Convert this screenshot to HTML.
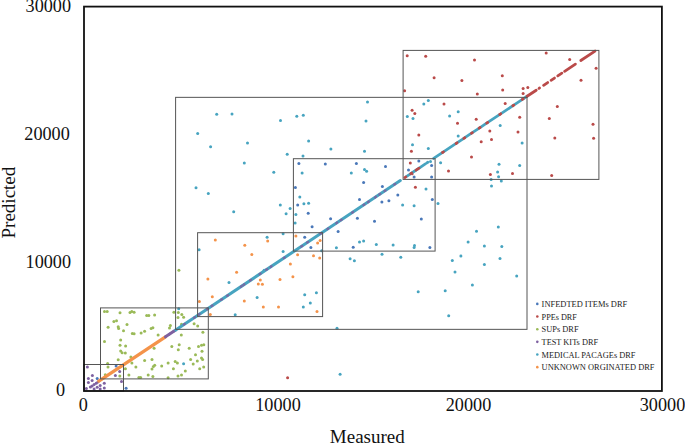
<!DOCTYPE html>
<html><head><meta charset="utf-8"><style>
html,body{margin:0;padding:0;background:#fff;overflow:hidden;}
svg{display:block;}
.t{font-family:"Liberation Serif",serif;font-size:18.2px;fill:#111;}
.ax{font-family:"Liberation Serif",serif;font-size:19px;fill:#111;}
.lg{font-family:"Liberation Serif",serif;font-size:8.5px;fill:#222;}
</style></head><body>
<svg width="685" height="444" viewBox="0 0 685 444">
<circle cx="107.6" cy="363.4" r="1.5" fill="#9ABA58"/>
<circle cx="108.0" cy="367.1" r="1.5" fill="#9ABA58"/>
<circle cx="119.8" cy="375.9" r="1.5" fill="#9ABA58"/>
<circle cx="105.3" cy="374.8" r="1.5" fill="#9ABA58"/>
<circle cx="125.4" cy="368.7" r="1.5" fill="#9ABA58"/>
<circle cx="131.9" cy="362.9" r="1.5" fill="#9ABA58"/>
<circle cx="135.9" cy="366.9" r="1.5" fill="#9ABA58"/>
<circle cx="128.9" cy="375.1" r="1.5" fill="#9ABA58"/>
<circle cx="138.9" cy="377.4" r="1.5" fill="#9ABA58"/>
<circle cx="140.6" cy="377.4" r="1.5" fill="#9ABA58"/>
<circle cx="148.2" cy="375.1" r="1.5" fill="#9ABA58"/>
<circle cx="152.9" cy="376.4" r="1.5" fill="#9ABA58"/>
<circle cx="152.0" cy="369.0" r="1.5" fill="#9ABA58"/>
<circle cx="153.4" cy="366.4" r="1.5" fill="#9ABA58"/>
<circle cx="154.7" cy="365.2" r="1.5" fill="#9ABA58"/>
<circle cx="161.7" cy="365.9" r="1.5" fill="#9ABA58"/>
<circle cx="168.1" cy="362.9" r="1.5" fill="#9ABA58"/>
<circle cx="168.1" cy="377.8" r="1.5" fill="#9ABA58"/>
<circle cx="173.4" cy="368.7" r="1.5" fill="#9ABA58"/>
<circle cx="177.4" cy="362.9" r="1.5" fill="#9ABA58"/>
<circle cx="181.5" cy="375.1" r="1.5" fill="#9ABA58"/>
<circle cx="185.3" cy="371.1" r="1.5" fill="#9ABA58"/>
<circle cx="193.2" cy="364.1" r="1.5" fill="#9ABA58"/>
<circle cx="199.7" cy="368.7" r="1.5" fill="#9ABA58"/>
<circle cx="203.7" cy="366.9" r="1.5" fill="#9ABA58"/>
<circle cx="104.5" cy="311.4" r="1.5" fill="#9ABA58"/>
<circle cx="107.2" cy="311.4" r="1.5" fill="#9ABA58"/>
<circle cx="120.0" cy="312.8" r="1.5" fill="#9ABA58"/>
<circle cx="130.0" cy="312.6" r="1.5" fill="#9ABA58"/>
<circle cx="131.8" cy="311.6" r="1.5" fill="#9ABA58"/>
<circle cx="134.1" cy="312.3" r="1.5" fill="#9ABA58"/>
<circle cx="146.7" cy="315.5" r="1.5" fill="#9ABA58"/>
<circle cx="148.8" cy="315.5" r="1.5" fill="#9ABA58"/>
<circle cx="154.6" cy="314.9" r="1.5" fill="#9ABA58"/>
<circle cx="173.9" cy="312.3" r="1.5" fill="#9ABA58"/>
<circle cx="178.3" cy="312.6" r="1.5" fill="#9ABA58"/>
<circle cx="181.8" cy="314.4" r="1.5" fill="#9ABA58"/>
<circle cx="178.0" cy="317.6" r="1.5" fill="#9ABA58"/>
<circle cx="183.6" cy="317.2" r="1.5" fill="#9ABA58"/>
<circle cx="113.9" cy="321.4" r="1.5" fill="#9ABA58"/>
<circle cx="116.5" cy="320.7" r="1.5" fill="#9ABA58"/>
<circle cx="108.1" cy="327.2" r="1.5" fill="#9ABA58"/>
<circle cx="118.2" cy="326.7" r="1.5" fill="#9ABA58"/>
<circle cx="118.6" cy="328.5" r="1.5" fill="#9ABA58"/>
<circle cx="127.0" cy="324.6" r="1.5" fill="#9ABA58"/>
<circle cx="123.5" cy="330.7" r="1.5" fill="#9ABA58"/>
<circle cx="132.3" cy="333.4" r="1.5" fill="#9ABA58"/>
<circle cx="134.1" cy="333.7" r="1.5" fill="#9ABA58"/>
<circle cx="141.1" cy="333.0" r="1.5" fill="#9ABA58"/>
<circle cx="144.6" cy="331.3" r="1.5" fill="#9ABA58"/>
<circle cx="151.1" cy="328.5" r="1.5" fill="#9ABA58"/>
<circle cx="152.9" cy="327.8" r="1.5" fill="#9ABA58"/>
<circle cx="158.1" cy="335.1" r="1.5" fill="#9ABA58"/>
<circle cx="170.4" cy="325.5" r="1.5" fill="#9ABA58"/>
<circle cx="169.5" cy="328.1" r="1.5" fill="#9ABA58"/>
<circle cx="181.5" cy="324.2" r="1.5" fill="#9ABA58"/>
<circle cx="194.1" cy="323.7" r="1.5" fill="#9ABA58"/>
<circle cx="197.7" cy="326.0" r="1.5" fill="#9ABA58"/>
<circle cx="202.9" cy="332.2" r="1.5" fill="#9ABA58"/>
<circle cx="181.3" cy="335.1" r="1.5" fill="#9ABA58"/>
<circle cx="104.5" cy="341.6" r="1.5" fill="#9ABA58"/>
<circle cx="120.7" cy="340.1" r="1.5" fill="#9ABA58"/>
<circle cx="120.0" cy="345.3" r="1.5" fill="#9ABA58"/>
<circle cx="125.6" cy="346.0" r="1.5" fill="#9ABA58"/>
<circle cx="120.7" cy="350.9" r="1.5" fill="#9ABA58"/>
<circle cx="122.1" cy="352.7" r="1.5" fill="#9ABA58"/>
<circle cx="125.3" cy="353.1" r="1.5" fill="#9ABA58"/>
<circle cx="154.1" cy="348.3" r="1.5" fill="#9ABA58"/>
<circle cx="171.8" cy="346.6" r="1.5" fill="#9ABA58"/>
<circle cx="179.2" cy="344.8" r="1.5" fill="#9ABA58"/>
<circle cx="178.3" cy="349.7" r="1.5" fill="#9ABA58"/>
<circle cx="189.2" cy="348.3" r="1.5" fill="#9ABA58"/>
<circle cx="198.5" cy="346.6" r="1.5" fill="#9ABA58"/>
<circle cx="201.5" cy="345.3" r="1.5" fill="#9ABA58"/>
<circle cx="203.8" cy="344.8" r="1.5" fill="#9ABA58"/>
<circle cx="202.0" cy="351.3" r="1.5" fill="#9ABA58"/>
<circle cx="130.9" cy="357.1" r="1.5" fill="#9ABA58"/>
<circle cx="118.2" cy="359.7" r="1.5" fill="#9ABA58"/>
<circle cx="144.6" cy="360.6" r="1.5" fill="#9ABA58"/>
<circle cx="152.0" cy="359.4" r="1.5" fill="#9ABA58"/>
<circle cx="175.2" cy="361.5" r="1.5" fill="#9ABA58"/>
<circle cx="190.6" cy="359.4" r="1.5" fill="#9ABA58"/>
<circle cx="195.5" cy="354.8" r="1.5" fill="#9ABA58"/>
<circle cx="197.3" cy="361.1" r="1.5" fill="#9ABA58"/>
<circle cx="201.5" cy="358.0" r="1.5" fill="#9ABA58"/>
<circle cx="202.6" cy="359.4" r="1.5" fill="#9ABA58"/>
<circle cx="178.0" cy="375.9" r="1.5" fill="#9ABA58"/>
<circle cx="178.9" cy="270.2" r="1.5" fill="#9ABA58"/>
<circle cx="199.4" cy="301.4" r="1.5" fill="#F4934A"/>
<circle cx="210.3" cy="314.4" r="1.5" fill="#F4934A"/>
<circle cx="317.6" cy="243.1" r="1.5" fill="#F4934A"/>
<circle cx="320.1" cy="240.4" r="1.5" fill="#F4934A"/>
<circle cx="297.6" cy="254.7" r="1.5" fill="#F4934A"/>
<circle cx="313.5" cy="255.7" r="1.5" fill="#F4934A"/>
<circle cx="319.7" cy="258.0" r="1.5" fill="#F4934A"/>
<circle cx="290.4" cy="263.9" r="1.5" fill="#F4934A"/>
<circle cx="292.9" cy="276.8" r="1.5" fill="#F4934A"/>
<circle cx="317.0" cy="311.5" r="1.5" fill="#F4934A"/>
<circle cx="244.8" cy="245.3" r="1.5" fill="#F4934A"/>
<circle cx="267.7" cy="240.9" r="1.5" fill="#F4934A"/>
<circle cx="215.3" cy="240.0" r="1.5" fill="#F4934A"/>
<circle cx="251.8" cy="254.6" r="1.5" fill="#F4934A"/>
<circle cx="236.6" cy="272.2" r="1.5" fill="#F4934A"/>
<circle cx="207.9" cy="279.0" r="1.5" fill="#F4934A"/>
<circle cx="212.3" cy="296.7" r="1.5" fill="#F4934A"/>
<circle cx="260.3" cy="280.1" r="1.5" fill="#F4934A"/>
<circle cx="258.3" cy="283.9" r="1.5" fill="#F4934A"/>
<circle cx="262.4" cy="284.3" r="1.5" fill="#F4934A"/>
<circle cx="280.0" cy="279.5" r="1.5" fill="#F4934A"/>
<circle cx="244.3" cy="301.1" r="1.5" fill="#F4934A"/>
<circle cx="263.3" cy="307.1" r="1.5" fill="#F4934A"/>
<circle cx="278.5" cy="307.1" r="1.5" fill="#F4934A"/>
<circle cx="295.9" cy="236.1" r="1.5" fill="#F4934A"/>
<circle cx="183.6" cy="363.8" r="1.5" fill="#47A4C0"/>
<circle cx="178.7" cy="308.8" r="1.5" fill="#47A4C0"/>
<circle cx="438.0" cy="203.6" r="1.5" fill="#47A4C0"/>
<circle cx="414.1" cy="205.7" r="1.5" fill="#47A4C0"/>
<circle cx="393.1" cy="245.1" r="1.5" fill="#47A4C0"/>
<circle cx="414.5" cy="245.5" r="1.5" fill="#47A4C0"/>
<circle cx="414.1" cy="247.6" r="1.5" fill="#47A4C0"/>
<circle cx="400.8" cy="257.2" r="1.5" fill="#47A4C0"/>
<circle cx="476.5" cy="231.2" r="1.5" fill="#47A4C0"/>
<circle cx="498.3" cy="227.1" r="1.5" fill="#47A4C0"/>
<circle cx="468.1" cy="242.0" r="1.5" fill="#47A4C0"/>
<circle cx="484.4" cy="245.9" r="1.5" fill="#47A4C0"/>
<circle cx="501.8" cy="246.5" r="1.5" fill="#47A4C0"/>
<circle cx="460.9" cy="256.1" r="1.5" fill="#47A4C0"/>
<circle cx="452.3" cy="260.4" r="1.5" fill="#47A4C0"/>
<circle cx="500.0" cy="258.4" r="1.5" fill="#47A4C0"/>
<circle cx="484.4" cy="264.5" r="1.5" fill="#47A4C0"/>
<circle cx="455.0" cy="272.0" r="1.5" fill="#47A4C0"/>
<circle cx="516.7" cy="276.1" r="1.5" fill="#47A4C0"/>
<circle cx="472.4" cy="285.0" r="1.5" fill="#47A4C0"/>
<circle cx="418.2" cy="291.8" r="1.5" fill="#47A4C0"/>
<circle cx="445.2" cy="290.8" r="1.5" fill="#47A4C0"/>
<circle cx="448.7" cy="315.7" r="1.5" fill="#47A4C0"/>
<circle cx="321.7" cy="250.8" r="1.5" fill="#47A4C0"/>
<circle cx="336.4" cy="247.8" r="1.5" fill="#47A4C0"/>
<circle cx="359.5" cy="242.0" r="1.5" fill="#47A4C0"/>
<circle cx="363.6" cy="241.0" r="1.5" fill="#47A4C0"/>
<circle cx="376.3" cy="244.5" r="1.5" fill="#47A4C0"/>
<circle cx="350.1" cy="258.8" r="1.5" fill="#47A4C0"/>
<circle cx="354.4" cy="260.8" r="1.5" fill="#47A4C0"/>
<circle cx="382.0" cy="254.3" r="1.5" fill="#47A4C0"/>
<circle cx="304.7" cy="294.8" r="1.5" fill="#47A4C0"/>
<circle cx="316.4" cy="292.7" r="1.5" fill="#47A4C0"/>
<circle cx="310.3" cy="302.9" r="1.5" fill="#47A4C0"/>
<circle cx="303.3" cy="307.0" r="1.5" fill="#47A4C0"/>
<circle cx="337.0" cy="328.3" r="1.5" fill="#47A4C0"/>
<circle cx="340.1" cy="374.3" r="1.5" fill="#47A4C0"/>
<circle cx="199.1" cy="249.7" r="1.5" fill="#47A4C0"/>
<circle cx="229.0" cy="282.5" r="1.5" fill="#47A4C0"/>
<circle cx="257.1" cy="297.6" r="1.5" fill="#47A4C0"/>
<circle cx="264.1" cy="270.2" r="1.5" fill="#47A4C0"/>
<circle cx="283.1" cy="251.4" r="1.5" fill="#47A4C0"/>
<circle cx="235.2" cy="314.7" r="1.5" fill="#47A4C0"/>
<circle cx="244.3" cy="162.9" r="1.5" fill="#47A4C0"/>
<circle cx="273.8" cy="172.2" r="1.5" fill="#47A4C0"/>
<circle cx="196.0" cy="187.8" r="1.5" fill="#47A4C0"/>
<circle cx="208.3" cy="193.6" r="1.5" fill="#47A4C0"/>
<circle cx="280.3" cy="205.0" r="1.5" fill="#47A4C0"/>
<circle cx="233.7" cy="211.7" r="1.5" fill="#47A4C0"/>
<circle cx="267.1" cy="237.2" r="1.5" fill="#47A4C0"/>
<circle cx="283.1" cy="233.7" r="1.5" fill="#47A4C0"/>
<circle cx="216.7" cy="114.2" r="1.5" fill="#47A4C0"/>
<circle cx="232.0" cy="113.9" r="1.5" fill="#47A4C0"/>
<circle cx="280.5" cy="120.4" r="1.5" fill="#47A4C0"/>
<circle cx="197.7" cy="133.5" r="1.5" fill="#47A4C0"/>
<circle cx="247.5" cy="142.9" r="1.5" fill="#47A4C0"/>
<circle cx="210.6" cy="146.7" r="1.5" fill="#47A4C0"/>
<circle cx="367.5" cy="102.1" r="1.5" fill="#47A4C0"/>
<circle cx="296.8" cy="116.2" r="1.5" fill="#47A4C0"/>
<circle cx="303.3" cy="115.3" r="1.5" fill="#47A4C0"/>
<circle cx="366.0" cy="120.9" r="1.5" fill="#47A4C0"/>
<circle cx="308.6" cy="141.1" r="1.5" fill="#47A4C0"/>
<circle cx="330.9" cy="149.0" r="1.5" fill="#47A4C0"/>
<circle cx="364.5" cy="151.3" r="1.5" fill="#47A4C0"/>
<circle cx="287.2" cy="154.3" r="1.5" fill="#47A4C0"/>
<circle cx="303.0" cy="156.0" r="1.5" fill="#47A4C0"/>
<circle cx="302.1" cy="173.1" r="1.5" fill="#47A4C0"/>
<circle cx="351.3" cy="173.1" r="1.5" fill="#47A4C0"/>
<circle cx="364.5" cy="169.4" r="1.5" fill="#47A4C0"/>
<circle cx="366.6" cy="171.3" r="1.5" fill="#47A4C0"/>
<circle cx="299.8" cy="197.1" r="1.5" fill="#47A4C0"/>
<circle cx="303.9" cy="203.8" r="1.5" fill="#47A4C0"/>
<circle cx="308.6" cy="203.3" r="1.5" fill="#47A4C0"/>
<circle cx="290.1" cy="208.6" r="1.5" fill="#47A4C0"/>
<circle cx="286.1" cy="213.8" r="1.5" fill="#47A4C0"/>
<circle cx="295.9" cy="214.4" r="1.5" fill="#47A4C0"/>
<circle cx="295.1" cy="223.1" r="1.5" fill="#47A4C0"/>
<circle cx="402.6" cy="205.0" r="1.5" fill="#47A4C0"/>
<circle cx="430.5" cy="161.6" r="1.5" fill="#47A4C0"/>
<circle cx="423.8" cy="104.0" r="1.5" fill="#47A4C0"/>
<circle cx="428.3" cy="100.6" r="1.5" fill="#47A4C0"/>
<circle cx="407.3" cy="116.6" r="1.5" fill="#47A4C0"/>
<circle cx="413.0" cy="118.6" r="1.5" fill="#47A4C0"/>
<circle cx="449.6" cy="115.9" r="1.5" fill="#47A4C0"/>
<circle cx="458.2" cy="111.8" r="1.5" fill="#47A4C0"/>
<circle cx="458.2" cy="136.1" r="1.5" fill="#47A4C0"/>
<circle cx="412.5" cy="144.7" r="1.5" fill="#47A4C0"/>
<circle cx="428.3" cy="148.5" r="1.5" fill="#47A4C0"/>
<circle cx="440.6" cy="162.7" r="1.5" fill="#47A4C0"/>
<circle cx="426.0" cy="189.0" r="1.5" fill="#47A4C0"/>
<circle cx="500.2" cy="125.4" r="1.5" fill="#47A4C0"/>
<circle cx="522.1" cy="143.1" r="1.5" fill="#47A4C0"/>
<circle cx="499.0" cy="164.2" r="1.5" fill="#47A4C0"/>
<circle cx="519.7" cy="165.6" r="1.5" fill="#47A4C0"/>
<circle cx="497.6" cy="171.9" r="1.5" fill="#47A4C0"/>
<circle cx="498.6" cy="176.8" r="1.5" fill="#47A4C0"/>
<circle cx="491.1" cy="179.5" r="1.5" fill="#47A4C0"/>
<circle cx="501.3" cy="180.9" r="1.5" fill="#47A4C0"/>
<circle cx="491.5" cy="186.0" r="1.5" fill="#47A4C0"/>
<circle cx="97.2" cy="378.6" r="1.5" fill="#4A78B9"/>
<circle cx="116.1" cy="365.9" r="1.5" fill="#4A78B9"/>
<circle cx="126.1" cy="388.3" r="1.5" fill="#4A78B9"/>
<circle cx="432.3" cy="199.5" r="1.5" fill="#4A78B9"/>
<circle cx="421.3" cy="218.9" r="1.5" fill="#4A78B9"/>
<circle cx="429.9" cy="247.6" r="1.5" fill="#4A78B9"/>
<circle cx="310.9" cy="247.6" r="1.5" fill="#4A78B9"/>
<circle cx="353.2" cy="247.2" r="1.5" fill="#4A78B9"/>
<circle cx="298.9" cy="163.4" r="1.5" fill="#4A78B9"/>
<circle cx="325.3" cy="164.1" r="1.5" fill="#4A78B9"/>
<circle cx="356.4" cy="163.4" r="1.5" fill="#4A78B9"/>
<circle cx="385.5" cy="166.4" r="1.5" fill="#4A78B9"/>
<circle cx="295.4" cy="187.5" r="1.5" fill="#4A78B9"/>
<circle cx="363.6" cy="182.6" r="1.5" fill="#4A78B9"/>
<circle cx="382.4" cy="186.6" r="1.5" fill="#4A78B9"/>
<circle cx="397.8" cy="194.9" r="1.5" fill="#4A78B9"/>
<circle cx="359.5" cy="199.4" r="1.5" fill="#4A78B9"/>
<circle cx="381.9" cy="202.1" r="1.5" fill="#4A78B9"/>
<circle cx="388.9" cy="200.7" r="1.5" fill="#4A78B9"/>
<circle cx="297.7" cy="205.0" r="1.5" fill="#4A78B9"/>
<circle cx="308.2" cy="213.3" r="1.5" fill="#4A78B9"/>
<circle cx="330.6" cy="218.7" r="1.5" fill="#4A78B9"/>
<circle cx="357.4" cy="218.2" r="1.5" fill="#4A78B9"/>
<circle cx="374.5" cy="221.2" r="1.5" fill="#4A78B9"/>
<circle cx="312.1" cy="226.7" r="1.5" fill="#4A78B9"/>
<circle cx="338.1" cy="231.4" r="1.5" fill="#4A78B9"/>
<circle cx="304.7" cy="237.2" r="1.5" fill="#4A78B9"/>
<circle cx="418.8" cy="160.9" r="1.5" fill="#4A78B9"/>
<circle cx="408.5" cy="169.9" r="1.5" fill="#4A78B9"/>
<circle cx="431.6" cy="165.4" r="1.5" fill="#4A78B9"/>
<circle cx="414.1" cy="177.1" r="1.5" fill="#4A78B9"/>
<circle cx="431.6" cy="177.1" r="1.5" fill="#4A78B9"/>
<circle cx="407.2" cy="55.8" r="1.5" fill="#BA4A49"/>
<circle cx="425.7" cy="56.2" r="1.5" fill="#BA4A49"/>
<circle cx="434.1" cy="77.7" r="1.5" fill="#BA4A49"/>
<circle cx="461.9" cy="80.4" r="1.5" fill="#BA4A49"/>
<circle cx="287.6" cy="377.8" r="1.5" fill="#BA4A49"/>
<circle cx="410.3" cy="163.1" r="1.5" fill="#BA4A49"/>
<circle cx="412.1" cy="173.7" r="1.5" fill="#BA4A49"/>
<circle cx="404.6" cy="90.7" r="1.5" fill="#BA4A49"/>
<circle cx="477.3" cy="94.1" r="1.5" fill="#BA4A49"/>
<circle cx="444.0" cy="104.0" r="1.5" fill="#BA4A49"/>
<circle cx="412.1" cy="110.3" r="1.5" fill="#BA4A49"/>
<circle cx="414.8" cy="113.6" r="1.5" fill="#BA4A49"/>
<circle cx="476.2" cy="119.3" r="1.5" fill="#BA4A49"/>
<circle cx="457.5" cy="123.3" r="1.5" fill="#BA4A49"/>
<circle cx="418.8" cy="135.0" r="1.5" fill="#BA4A49"/>
<circle cx="411.4" cy="151.2" r="1.5" fill="#BA4A49"/>
<circle cx="471.5" cy="157.1" r="1.5" fill="#BA4A49"/>
<circle cx="448.5" cy="171.0" r="1.5" fill="#BA4A49"/>
<circle cx="415.4" cy="187.2" r="1.5" fill="#BA4A49"/>
<circle cx="474.5" cy="60.0" r="1.5" fill="#BA4A49"/>
<circle cx="546.2" cy="52.9" r="1.5" fill="#BA4A49"/>
<circle cx="569.7" cy="59.4" r="1.5" fill="#BA4A49"/>
<circle cx="502.3" cy="75.8" r="1.5" fill="#BA4A49"/>
<circle cx="596.1" cy="68.2" r="1.5" fill="#BA4A49"/>
<circle cx="581.0" cy="80.3" r="1.5" fill="#BA4A49"/>
<circle cx="502.7" cy="90.1" r="1.5" fill="#BA4A49"/>
<circle cx="523.1" cy="88.4" r="1.5" fill="#BA4A49"/>
<circle cx="527.8" cy="87.6" r="1.5" fill="#BA4A49"/>
<circle cx="523.1" cy="93.5" r="1.5" fill="#BA4A49"/>
<circle cx="505.2" cy="103.4" r="1.5" fill="#BA4A49"/>
<circle cx="557.3" cy="106.4" r="1.5" fill="#BA4A49"/>
<circle cx="519.7" cy="117.3" r="1.5" fill="#BA4A49"/>
<circle cx="549.3" cy="118.5" r="1.5" fill="#BA4A49"/>
<circle cx="593.0" cy="124.2" r="1.5" fill="#BA4A49"/>
<circle cx="489.8" cy="131.1" r="1.5" fill="#BA4A49"/>
<circle cx="518.0" cy="132.1" r="1.5" fill="#BA4A49"/>
<circle cx="481.2" cy="141.7" r="1.5" fill="#BA4A49"/>
<circle cx="491.5" cy="139.6" r="1.5" fill="#BA4A49"/>
<circle cx="554.8" cy="138.0" r="1.5" fill="#BA4A49"/>
<circle cx="593.6" cy="138.2" r="1.5" fill="#BA4A49"/>
<circle cx="490.4" cy="174.4" r="1.5" fill="#BA4A49"/>
<circle cx="512.5" cy="173.4" r="1.5" fill="#BA4A49"/>
<circle cx="551.7" cy="175.4" r="1.5" fill="#BA4A49"/>
<circle cx="87.4" cy="366.9" r="1.5" fill="#7E61A1"/>
<circle cx="92.4" cy="375.5" r="1.5" fill="#7E61A1"/>
<circle cx="88.4" cy="378.6" r="1.5" fill="#7E61A1"/>
<circle cx="92.1" cy="380.4" r="1.5" fill="#7E61A1"/>
<circle cx="88.4" cy="382.6" r="1.5" fill="#7E61A1"/>
<circle cx="86.4" cy="388.5" r="1.5" fill="#7E61A1"/>
<circle cx="90.4" cy="387.0" r="1.5" fill="#7E61A1"/>
<circle cx="92.1" cy="386.0" r="1.5" fill="#7E61A1"/>
<circle cx="94.1" cy="384.6" r="1.5" fill="#7E61A1"/>
<circle cx="96.2" cy="383.3" r="1.5" fill="#7E61A1"/>
<circle cx="97.9" cy="381.9" r="1.5" fill="#7E61A1"/>
<circle cx="94.1" cy="389.0" r="1.5" fill="#7E61A1"/>
<circle cx="97.2" cy="387.3" r="1.5" fill="#7E61A1"/>
<circle cx="100.2" cy="385.6" r="1.5" fill="#7E61A1"/>
<circle cx="100.2" cy="389.0" r="1.5" fill="#7E61A1"/>
<circle cx="104.3" cy="383.3" r="1.5" fill="#7E61A1"/>
<circle cx="104.3" cy="388.0" r="1.5" fill="#7E61A1"/>
<circle cx="115.4" cy="375.5" r="1.5" fill="#7E61A1"/>
<circle cx="119.7" cy="371.6" r="1.5" fill="#7E61A1"/>
<circle cx="121.5" cy="381.6" r="1.5" fill="#7E61A1"/>
<line x1="98.83" y1="381.13" x2="165.48" y2="336.8" stroke="#F4934A" stroke-width="3.3" stroke-linecap="round"/>
<line x1="165.48" y1="336.8" x2="175.31" y2="330.26" stroke="#7E61A1" stroke-width="3.0" stroke-linecap="round"/>
<line x1="175.31" y1="330.26" x2="400.3" y2="180.61" stroke="#47A4C0" stroke-width="3.0" stroke-linecap="round"/>
<line x1="406.66" y1="176.38" x2="410.51" y2="173.81" stroke="#47A4C0" stroke-width="2.8" stroke-linecap="round"/>
<line x1="411.86" y1="172.92" x2="415.91" y2="170.23" stroke="#47A4C0" stroke-width="2.8" stroke-linecap="round"/>
<line x1="417.26" y1="169.33" x2="417.83" y2="168.94" stroke="#47A4C0" stroke-width="2.8" stroke-linecap="round"/>
<line x1="419.18" y1="168.05" x2="425.35" y2="163.95" stroke="#47A4C0" stroke-width="2.8" stroke-linecap="round"/>
<line x1="426.89" y1="162.92" x2="427.85" y2="162.28" stroke="#47A4C0" stroke-width="2.8" stroke-linecap="round"/>
<line x1="433.63" y1="158.44" x2="442.3" y2="152.67" stroke="#47A4C0" stroke-width="2.8" stroke-linecap="round"/>
<line x1="443.84" y1="151.65" x2="455.78" y2="143.7" stroke="#47A4C0" stroke-width="2.8" stroke-linecap="round"/>
<line x1="457.32" y1="142.68" x2="463.49" y2="138.58" stroke="#47A4C0" stroke-width="2.8" stroke-linecap="round"/>
<line x1="465.22" y1="137.42" x2="471.19" y2="133.45" stroke="#47A4C0" stroke-width="2.8" stroke-linecap="round"/>
<line x1="472.73" y1="132.43" x2="478.9" y2="128.33" stroke="#47A4C0" stroke-width="2.8" stroke-linecap="round"/>
<line x1="480.44" y1="127.3" x2="486.6" y2="123.2" stroke="#47A4C0" stroke-width="2.8" stroke-linecap="round"/>
<line x1="488.14" y1="122.18" x2="499.51" y2="114.62" stroke="#47A4C0" stroke-width="2.8" stroke-linecap="round"/>
<line x1="501.05" y1="113.59" x2="512.61" y2="105.9" stroke="#47A4C0" stroke-width="2.8" stroke-linecap="round"/>
<line x1="514.15" y1="104.88" x2="522.05" y2="99.62" stroke="#47A4C0" stroke-width="2.8" stroke-linecap="round"/>
<line x1="523.2" y1="98.86" x2="527.06" y2="96.29" stroke="#47A4C0" stroke-width="2.8" stroke-linecap="round"/>
<line x1="404.83" y1="177.59" x2="405.79" y2="176.95" stroke="#BA4A49" stroke-width="2.8" stroke-linecap="round"/>
<line x1="410.71" y1="173.69" x2="411.67" y2="173.05" stroke="#BA4A49" stroke-width="2.8" stroke-linecap="round"/>
<line x1="416.1" y1="170.1" x2="417.06" y2="169.46" stroke="#BA4A49" stroke-width="2.8" stroke-linecap="round"/>
<line x1="418.03" y1="168.82" x2="418.99" y2="168.18" stroke="#BA4A49" stroke-width="2.8" stroke-linecap="round"/>
<line x1="442.51" y1="152.53" x2="443.47" y2="151.89" stroke="#BA4A49" stroke-width="2.8" stroke-linecap="round"/>
<line x1="456.11" y1="143.48" x2="457.07" y2="142.84" stroke="#BA4A49" stroke-width="2.8" stroke-linecap="round"/>
<line x1="463.82" y1="138.36" x2="464.78" y2="137.72" stroke="#BA4A49" stroke-width="2.8" stroke-linecap="round"/>
<line x1="471.42" y1="133.3" x2="472.39" y2="132.66" stroke="#BA4A49" stroke-width="2.8" stroke-linecap="round"/>
<line x1="479.13" y1="128.17" x2="480.09" y2="127.53" stroke="#BA4A49" stroke-width="2.8" stroke-linecap="round"/>
<line x1="486.72" y1="123.12" x2="487.68" y2="122.48" stroke="#BA4A49" stroke-width="2.8" stroke-linecap="round"/>
<line x1="499.72" y1="114.48" x2="500.69" y2="113.83" stroke="#BA4A49" stroke-width="2.8" stroke-linecap="round"/>
<line x1="512.82" y1="105.76" x2="513.78" y2="105.12" stroke="#BA4A49" stroke-width="2.8" stroke-linecap="round"/>
<line x1="522.3" y1="99.46" x2="523.26" y2="98.82" stroke="#BA4A49" stroke-width="2.8" stroke-linecap="round"/>
<line x1="169.07" y1="334.42" x2="169.91" y2="333.85" stroke="#7E61A1" stroke-width="2.4" stroke-linecap="round" stroke-opacity="0.85"/>
<line x1="173.07" y1="331.75" x2="173.92" y2="331.19" stroke="#7E61A1" stroke-width="2.4" stroke-linecap="round" stroke-opacity="0.85"/>
<line x1="183.88" y1="324.56" x2="184.73" y2="324.0" stroke="#7E61A1" stroke-width="2.4" stroke-linecap="round" stroke-opacity="0.85"/>
<line x1="194.09" y1="317.77" x2="194.94" y2="317.21" stroke="#7E61A1" stroke-width="2.4" stroke-linecap="round" stroke-opacity="0.85"/>
<line x1="198.79" y1="314.65" x2="199.64" y2="314.08" stroke="#7E61A1" stroke-width="2.4" stroke-linecap="round" stroke-opacity="0.85"/>
<line x1="206.9" y1="309.25" x2="207.75" y2="308.69" stroke="#7E61A1" stroke-width="2.4" stroke-linecap="round" stroke-opacity="0.85"/>
<line x1="211.6" y1="306.12" x2="212.45" y2="305.56" stroke="#7E61A1" stroke-width="2.4" stroke-linecap="round" stroke-opacity="0.85"/>
<line x1="221.12" y1="299.79" x2="221.96" y2="299.23" stroke="#7E61A1" stroke-width="2.4" stroke-linecap="round" stroke-opacity="0.85"/>
<line x1="227.2" y1="295.75" x2="228.05" y2="295.18" stroke="#7E61A1" stroke-width="2.4" stroke-linecap="round" stroke-opacity="0.85"/>
<line x1="240.88" y1="286.65" x2="241.73" y2="286.08" stroke="#7E61A1" stroke-width="2.4" stroke-linecap="round" stroke-opacity="0.85"/>
<line x1="243.5" y1="284.91" x2="244.35" y2="284.34" stroke="#7E61A1" stroke-width="2.4" stroke-linecap="round" stroke-opacity="0.85"/>
<line x1="250.11" y1="280.51" x2="250.96" y2="279.95" stroke="#7E61A1" stroke-width="2.4" stroke-linecap="round" stroke-opacity="0.85"/>
<line x1="259.6" y1="274.19" x2="260.45" y2="273.63" stroke="#7E61A1" stroke-width="2.4" stroke-linecap="round" stroke-opacity="0.85"/>
<line x1="266.21" y1="269.8" x2="267.06" y2="269.23" stroke="#7E61A1" stroke-width="2.4" stroke-linecap="round" stroke-opacity="0.85"/>
<line x1="270.6" y1="266.88" x2="271.45" y2="266.31" stroke="#7E61A1" stroke-width="2.4" stroke-linecap="round" stroke-opacity="0.85"/>
<line x1="283.8" y1="258.1" x2="284.65" y2="257.54" stroke="#7E61A1" stroke-width="2.4" stroke-linecap="round" stroke-opacity="0.85"/>
<line x1="301.29" y1="246.47" x2="302.14" y2="245.9" stroke="#7E61A1" stroke-width="2.4" stroke-linecap="round" stroke-opacity="0.85"/>
<line x1="307.2" y1="242.53" x2="308.05" y2="241.97" stroke="#7E61A1" stroke-width="2.4" stroke-linecap="round" stroke-opacity="0.85"/>
<line x1="320.4" y1="233.75" x2="321.25" y2="233.19" stroke="#7E61A1" stroke-width="2.4" stroke-linecap="round" stroke-opacity="0.85"/>
<line x1="327.53" y1="229.01" x2="328.37" y2="228.45" stroke="#7E61A1" stroke-width="2.4" stroke-linecap="round" stroke-opacity="0.85"/>
<line x1="336.33" y1="223.16" x2="337.18" y2="222.59" stroke="#7E61A1" stroke-width="2.4" stroke-linecap="round" stroke-opacity="0.85"/>
<line x1="340.74" y1="220.22" x2="341.59" y2="219.66" stroke="#7E61A1" stroke-width="2.4" stroke-linecap="round" stroke-opacity="0.85"/>
<line x1="352.15" y1="212.64" x2="352.99" y2="212.07" stroke="#7E61A1" stroke-width="2.4" stroke-linecap="round" stroke-opacity="0.85"/>
<line x1="363.55" y1="205.05" x2="364.4" y2="204.49" stroke="#7E61A1" stroke-width="2.4" stroke-linecap="round" stroke-opacity="0.85"/>
<line x1="367.94" y1="202.13" x2="368.79" y2="201.57" stroke="#7E61A1" stroke-width="2.4" stroke-linecap="round" stroke-opacity="0.85"/>
<line x1="375.05" y1="197.4" x2="375.9" y2="196.84" stroke="#7E61A1" stroke-width="2.4" stroke-linecap="round" stroke-opacity="0.85"/>
<line x1="379.35" y1="194.55" x2="380.19" y2="193.98" stroke="#7E61A1" stroke-width="2.4" stroke-linecap="round" stroke-opacity="0.85"/>
<line x1="384.64" y1="191.02" x2="385.49" y2="190.46" stroke="#7E61A1" stroke-width="2.4" stroke-linecap="round" stroke-opacity="0.85"/>
<line x1="394.33" y1="184.58" x2="395.18" y2="184.01" stroke="#7E61A1" stroke-width="2.4" stroke-linecap="round" stroke-opacity="0.85"/>
<line x1="527.06" y1="96.29" x2="536.21" y2="90.21" stroke="#BA4A49" stroke-width="2.8" stroke-linecap="round"/>
<line x1="539.0" y1="88.35" x2="539.58" y2="87.96" stroke="#BA4A49" stroke-width="2.8" stroke-linecap="round"/>
<line x1="543.58" y1="85.3" x2="547.69" y2="82.57" stroke="#BA4A49" stroke-width="2.8" stroke-linecap="round"/>
<line x1="551.08" y1="80.32" x2="554.49" y2="78.05" stroke="#BA4A49" stroke-width="2.8" stroke-linecap="round"/>
<line x1="557.78" y1="75.86" x2="561.88" y2="73.13" stroke="#BA4A49" stroke-width="2.8" stroke-linecap="round"/>
<line x1="564.6" y1="71.32" x2="575.41" y2="64.13" stroke="#BA4A49" stroke-width="2.8" stroke-linecap="round"/>
<line x1="580.8" y1="60.54" x2="595.0" y2="51.1" stroke="#BA4A49" stroke-width="2.8" stroke-linecap="round"/>
<rect x="84.0" y="364.5" width="39.5" height="26.5" fill="none" stroke="#555" stroke-width="1"/>
<rect x="100.5" y="307.9" width="107.8" height="71.0" fill="none" stroke="#555" stroke-width="1"/>
<rect x="197.6" y="232.7" width="125.0" height="83.9" fill="none" stroke="#555" stroke-width="1"/>
<rect x="175.6" y="97.35" width="351.4" height="232.0" fill="none" stroke="#555" stroke-width="1"/>
<rect x="293.4" y="158.7" width="141.7" height="92.4" fill="none" stroke="#555" stroke-width="1"/>
<rect x="403.1" y="50.4" width="195.8" height="129.0" fill="none" stroke="#555" stroke-width="1"/>
<rect x="84" y="6.6" width="577.9" height="384.4" fill="none" stroke="#111" stroke-width="1.8"/>
<text x="71" y="12.1" text-anchor="end" class="t">30000</text>
<text x="69.8" y="139.9" text-anchor="end" class="t">20000</text>
<text x="71" y="267.9" text-anchor="end" class="t">10000</text>
<text x="65" y="395.5" text-anchor="end" class="t">0</text>
<text x="83.2" y="410.5" text-anchor="middle" class="t">0</text>
<text x="278" y="410.5" text-anchor="middle" class="t">10000</text>
<text x="468.5" y="410.5" text-anchor="middle" class="t">20000</text>
<text x="662.5" y="410.5" text-anchor="middle" class="t">30000</text>
<text x="367.3" y="442.7" text-anchor="middle" class="ax">Measured</text>
<text transform="translate(15.2,202.6) rotate(-90)" text-anchor="middle" class="ax">Predicted</text>
<circle cx="537.3" cy="303.90" r="1.3" fill="#4A78B9"/>
<text x="541.6" y="306.90" class="lg" textLength="85.60000000000001" lengthAdjust="spacingAndGlyphs">INFEDTED ITEMs DRF</text>
<circle cx="537.3" cy="316.55" r="1.3" fill="#BA4A49"/>
<text x="541.6" y="319.55" class="lg" textLength="35.3" lengthAdjust="spacingAndGlyphs">PPEs DRF</text>
<circle cx="537.3" cy="329.20" r="1.3" fill="#9ABA58"/>
<text x="541.6" y="332.20" class="lg" textLength="37.0" lengthAdjust="spacingAndGlyphs">SUPs DRF</text>
<circle cx="537.3" cy="341.85" r="1.3" fill="#7E61A1"/>
<text x="541.6" y="344.85" class="lg" textLength="56.5" lengthAdjust="spacingAndGlyphs">TEST KITs DRF</text>
<circle cx="537.3" cy="354.50" r="1.3" fill="#47A4C0"/>
<text x="541.6" y="357.50" class="lg" textLength="93.9" lengthAdjust="spacingAndGlyphs">MEDICAL PACAGEs DRF</text>
<circle cx="537.3" cy="367.15" r="1.3" fill="#F4934A"/>
<text x="541.6" y="370.15" class="lg" textLength="112.9" lengthAdjust="spacingAndGlyphs">UNKNOWN ORGINATED DRF</text>
</svg></body></html>
